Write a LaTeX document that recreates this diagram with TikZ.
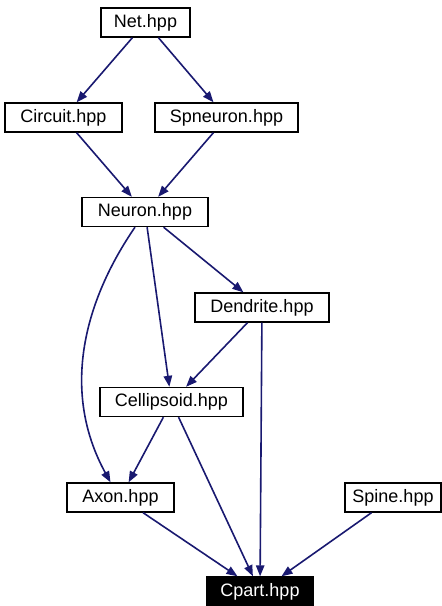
\documentclass[tikz,border=0pt]{standalone}
\usepackage{fontspec}
\setmainfont{Liberation Sans}
\usetikzlibrary{arrows.meta}

\tikzset{
  hdrbox/.style={draw, line width=0.7pt, minimum width=#1, minimum height=14.5pt,
    inner sep=0pt, font=\fontsize{9}{10}\selectfont},
  curbox/.style={hdrbox=#1, fill=black, text=white},
  incl/.style={-{Triangle[length=5.5pt,width=4.2pt]}, draw=edgeblue, line width=0.8pt}
}
\definecolor{edgeblue}{RGB}{25,25,112}

\begin{document}
\begin{tikzpicture}[x=0.5pt, y=-0.5pt]
  \useasboundingbox (0,0) rectangle (441,606);

  % headers
  \node[hdrbox=44.5pt] (net) at (145.5,22.5) {Net.hpp};
  \node[hdrbox=58.5pt] (circuit) at (63.5,117.5) {Circuit.hpp};
  \node[hdrbox=71.5pt] (spneuron) at (226.5,117.5) {Spneuron.hpp};
  \node[hdrbox=63pt] (neuron) at (145,212) {Neuron.hpp};
  \node[hdrbox=67pt] (dendrite) at (262,307.5) {Dendrite.hpp};
  \node[hdrbox=71.5pt] (cellipsoid) at (171.5,402) {Cellipsoid.hpp};
  \node[hdrbox=53.5pt] (axon) at (120.5,497.5) {Axon.hpp};
  \node[hdrbox=48pt] (spine) at (393,497.5) {Spine.hpp};
  \node[curbox=53pt] (cpart) at (260,591.5) {Cpart.hpp};

  % include edges
  \draw[incl] (net) -- (circuit);
  \draw[incl] (net) -- (spneuron);
  \draw[incl] (circuit) -- (neuron);
  \draw[incl] (spneuron) -- (neuron);
  \draw[incl] ([xshift=-5pt]neuron.south) .. controls (85,300) and (60,390) .. ([xshift=-5pt]axon.north);
  \draw[incl] (neuron) -- (cellipsoid);
  \draw[incl] (neuron) -- (dendrite);
  \draw[incl] (dendrite) -- (cellipsoid);
  \draw[incl] (dendrite) -- (cpart);
  \draw[incl] (cellipsoid) -- (axon);
  \draw[incl] (cellipsoid) -- (cpart);
  \draw[incl] (axon) -- (cpart);
  \draw[incl] (spine) -- (cpart);
\end{tikzpicture}
\end{document}
